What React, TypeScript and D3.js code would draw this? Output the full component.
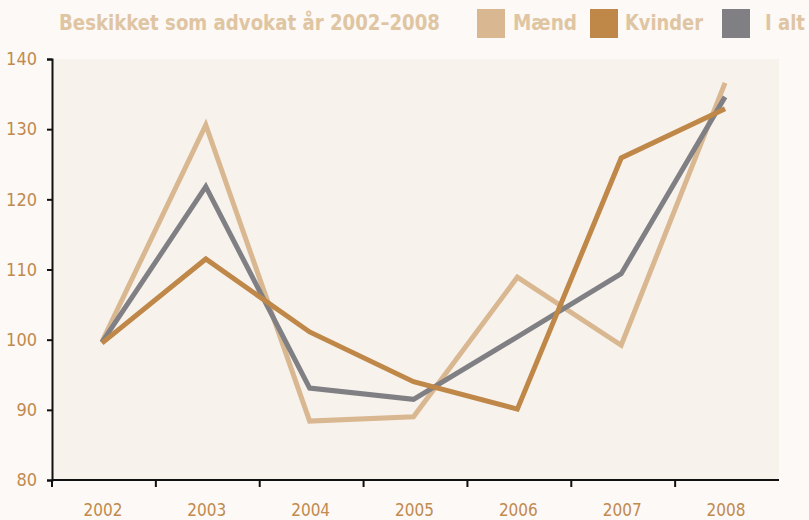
import * as d3 from "d3";
import { useEffect, useRef } from "react";

const years = ["2002", "2003", "2004", "2005", "2006", "2007", "2008"];
const maend = [99.7, 130.6, 88.4, 89.0, 108.9, 99.2, 136.6];
const kvinder = [99.5, 111.5, 101.1, 94.0, 90.1, 125.9, 132.9];
const iAlt = [99.6, 121.8, 93.1, 91.5, 100.4, 109.4, 134.6];
const yTicks = [80, 90, 100, 110, 120, 130, 140];

const seriesNames = ["Mænd", "Kvinder", "I alt"];
const seriesColors = ["#d9b891", "#bf8748", "#808084"];
const title = "Beskikket som advokat år 2002–2008";

const App = () => {
  const svgRef = useRef<SVGSVGElement>(null);

  useEffect(() => {
    document.body.style.margin = "0";
    document.body.style.overflow = "hidden";

    const width = 809;
    const height = 520;
    const margin = { top: 59, right: 30, bottom: 40, left: 52 };

    const svg = d3.select(svgRef.current);
    svg.selectAll("*").remove();
    svg.attr("width", width).attr("height", height);

    svg.append("rect").attr("width", width).attr("height", height).attr("fill", "#fcf9f6");

    const x = d3
      .scaleBand()
      .domain(years)
      .range([margin.left, width - margin.right]);

    const y = d3
      .scaleLinear()
      .domain([80, 140])
      .range([height - margin.bottom, margin.top]);

    // plot background
    svg
      .append("rect")
      .attr("x", margin.left)
      .attr("y", margin.top)
      .attr("width", width - margin.right - margin.left)
      .attr("height", height - margin.bottom - margin.top)
      .attr("fill", "#f7f2ec");

    const font = "'DejaVu Sans Condensed', 'DejaVu Sans', sans-serif";
    const labelColor = "#c18a4e";

    // y axis
    const yAxis = svg
      .append("g")
      .attr("transform", `translate(${margin.left},0)`)
      .call(d3.axisLeft(y).tickValues(yTicks).tickSize(5).tickPadding(10));
    yAxis.select(".domain").attr("stroke", "#111").attr("stroke-width", 2);
    yAxis.selectAll(".tick line").attr("stroke", "#111").attr("stroke-width", 2);
    yAxis
      .selectAll(".tick text")
      .attr("fill", labelColor)
      .attr("font-family", font)
      .attr("font-size", 18);

    // x axis, ticks at category boundaries
    const xg = svg.append("g").attr("transform", `translate(0,${height - margin.bottom})`);
    xg.append("line")
      .attr("x1", margin.left)
      .attr("x2", width - margin.right)
      .attr("stroke", "#111")
      .attr("stroke-width", 2);
    xg.selectAll(".xt")
      .data(years)
      .enter()
      .append("line")
      .attr("x1", (d) => x(d) as number)
      .attr("x2", (d) => x(d) as number)
      .attr("y1", 0)
      .attr("y2", 7)
      .attr("stroke", "#111")
      .attr("stroke-width", 2);
    xg.selectAll(".xl")
      .data(years)
      .enter()
      .append("text")
      .attr("x", (d) => (x(d) as number) + x.bandwidth() / 2 - 1)
      .attr("y", 36)
      .attr("text-anchor", "middle")
      .attr("fill", labelColor)
      .attr("font-family", font)
      .attr("font-size", 17)
      .text((d) => d);

    // lines
    const line = d3
      .line<number>()
      .x((_, i) => (x(years[i]) as number) + x.bandwidth() / 2 - 2)
      .y((d) => y(d));

    // draw order: Mænd, I alt, Kvinder on top
    [0, 2, 1].forEach((idx) => {
      const vals = [maend, kvinder, iAlt][idx];
      svg
        .append("path")
        .datum(vals)
        .attr("d", line)
        .attr("fill", "none")
        .attr("stroke", seriesColors[idx])
        .attr("stroke-width", 5)
        .attr("stroke-linejoin", "miter");
    });

    // title
    svg
      .append("text")
      .attr("x", 59)
      .attr("y", 30)
      .attr("fill", "#e0c5a3")
      .attr("font-family", font)
      .attr("font-weight", "bold")
      .attr("font-size", 21)
      .attr("textLength", 381)
      .attr("lengthAdjust", "spacingAndGlyphs")
      .text(title);

    // legend
    const legendX = [477, 590, 722];
    const legendTextX = [513, 625, 765];
    const legendTextW = [64, 78, 40];
    seriesNames.forEach((name, i) => {
      svg
        .append("rect")
        .attr("x", legendX[i])
        .attr("y", 9)
        .attr("width", 28)
        .attr("height", 29)
        .attr("fill", seriesColors[i]);
      svg
        .append("text")
        .attr("x", legendTextX[i])
        .attr("y", 30)
        .attr("fill", "#e0c5a3")
        .attr("font-family", font)
        .attr("font-weight", "bold")
        .attr("font-size", 21)
        .attr("textLength", legendTextW[i])
        .attr("lengthAdjust", "spacingAndGlyphs")
        .text(name);
    });
  }, []);

  return <svg ref={svgRef} style={{ display: "block" }}></svg>;
};

export default App;
